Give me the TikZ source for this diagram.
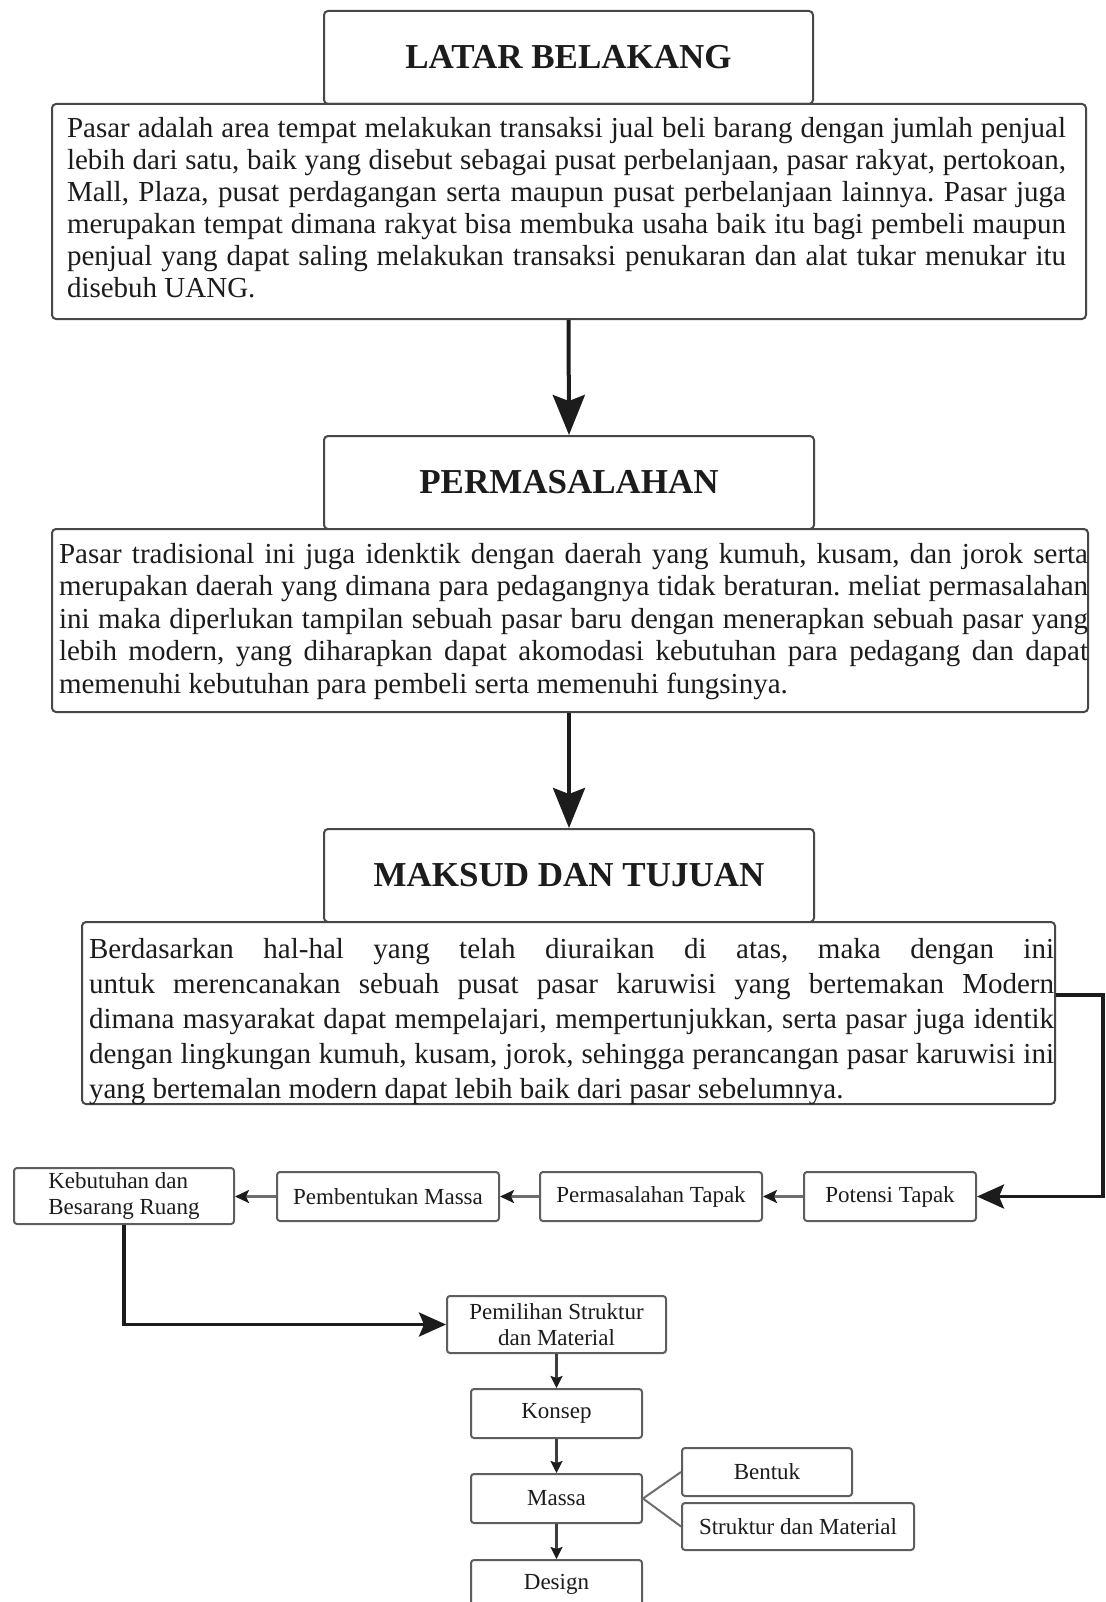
\documentclass[tikz,border=0pt]{standalone}
\usepackage{fontspec}
\setmainfont{Liberation Serif}
\usetikzlibrary{arrows.meta,calc}
\definecolor{bordergray}{HTML}{474747}
\definecolor{boxgray}{HTML}{5E5E5E}
\definecolor{ink}{HTML}{1C1C1C}
\definecolor{linegray}{HTML}{6E6E6E}
\frenchspacing
\newcommand{\jline}[2]{\makebox[#1][s]{\strut #2}\par}
\newcommand{\lastline}[1]{\strut #1\par}
\newcommand{\tblock}[6]{\parbox[c][#2][t]{#1}{\fontsize{#4}{#5}\selectfont\frenchspacing\leftskip=#3\relax\parindent=0pt\vspace*{11.5pt}#6}}
\begin{document}
\begin{tikzpicture}[x=1pt,y=-1pt,
  hdr/.style={draw=bordergray, line width=2pt, rounded corners=4pt, fill=white, inner sep=0pt, anchor=north west, text=ink, font=\fontsize{35}{40}\selectfont\bfseries},
  txt/.style={draw=bordergray, line width=2pt, rounded corners=4pt, fill=white, inner sep=0pt, anchor=north west, text=ink},
  sbox/.style={draw=boxgray, line width=2pt, rounded corners=3pt, fill=white, inner sep=0pt, anchor=north west, text=ink, font=\fontsize{23}{26}\selectfont, align=center},
  bigarrow/.style={line width=4pt, draw=ink, -{Stealth[length=40pt,width=32pt,inset=6pt]}},
  midarrow/.style={line width=3.5pt, draw=ink, -{Stealth[length=27pt,width=24pt,inset=5pt]}},
  smallarrow/.style={line width=2.5pt, draw=linegray, -{Stealth[length=14pt,width=13pt,inset=3pt,color=ink]}},
  vsarrow/.style={line width=2.2pt, draw=ink!85, -{Stealth[length=12pt,width=12pt,inset=2pt,color=ink]}},
  branch/.style={line width=2pt, draw=linegray}]
\useasboundingbox (0,0) rectangle (1105,1602);
\clip (0,0) rectangle (1105,1602);

% headers and text blocks
\node[hdr, minimum width=489pt, minimum height=93pt] (lbh) at (323,10) {\raisebox{-7pt}{LATAR BELAKANG}};
\node[txt] (lbt) at (51,103) {\tblock{1034pt}{215pt}{15pt}{29}{32}{%
\jline{999pt}{Pasar adalah area tempat melakukan transaksi jual beli barang dengan jumlah penjual}
\jline{999pt}{lebih dari satu, baik yang disebut sebagai pusat perbelanjaan, pasar rakyat, pertokoan,}
\jline{999pt}{Mall, Plaza, pusat perdagangan serta maupun pusat perbelanjaan lainnya. Pasar juga}
\jline{999pt}{merupakan tempat dimana rakyat bisa membuka usaha baik itu bagi pembeli maupun}
\jline{999pt}{penjual yang dapat saling melakukan transaksi penukaran dan alat tukar menukar itu}
\lastline{disebuh UANG.}}};

\node[hdr, minimum width=490pt, minimum height=93pt] (pmh) at (323,435) {\raisebox{-7pt}{PERMASALAHAN}};
\node[txt] (pmt) at (51,528) {\tblock{1036pt}{183pt}{7pt}{29}{32.5}{%
\jline{1029pt}{Pasar tradisional ini juga idenktik dengan daerah yang kumuh, kusam, dan jorok serta}
\jline{1029pt}{merupakan daerah yang dimana para pedagangnya tidak beraturan. meliat permasalahan}
\jline{1029pt}{ini maka diperlukan tampilan sebuah pasar baru dengan menerapkan sebuah pasar yang}
\jline{1029pt}{lebih modern, yang diharapkan dapat akomodasi kebutuhan para pedagang dan dapat}
\lastline{memenuhi kebutuhan para pembeli serta memenuhi fungsinya.}}};

\node[hdr, minimum width=490pt, minimum height=93pt] (mth) at (323,828) {\raisebox{-1.5pt}{MAKSUD DAN TUJUAN}};
\node[txt] (mtt) at (81,921) {\tblock{973pt}{182pt}{7pt}{29}{35}{%
\jline{965pt}{Berdasarkan hal-hal yang telah diuraikan di atas, maka dengan ini}
\jline{965pt}{untuk merencanakan sebuah pusat pasar karuwisi yang bertemakan Modern}
\jline{965pt}{dimana masyarakat dapat mempelajari, mempertunjukkan, serta pasar juga identik}
\jline{965pt}{dengan lingkungan kumuh, kusam, jorok, sehingga perancangan pasar karuwisi ini}
\lastline{yang bertemalan modern dapat lebih baik dari pasar sebelumnya.}}};

% row of analysis boxes
\node[sbox, minimum width=220pt, minimum height=56pt, align=left] (keb) at (13,1167) {Kebutuhan dan\\Besarang Ruang};
\node[sbox, minimum width=222pt, minimum height=49pt] (pbm) at (276,1171) {Pembentukan Massa};
\node[sbox, minimum width=222pt, minimum height=49pt] (pst) at (539,1171) {Permasalahan Tapak};
\node[sbox, minimum width=172pt, minimum height=49pt] (pot) at (803,1171) {Potensi Tapak};

% lower column
\node[sbox, minimum width=219pt, minimum height=57pt] (pil) at (446,1295) {Pemilihan Struktur\\dan Material};
\node[sbox, minimum width=171pt, minimum height=49pt] (kon) at (470,1388) {Konsep};
\node[sbox, minimum width=171pt, minimum height=49pt] (mas) at (470,1473) {Massa};
\node[sbox, minimum width=171pt, minimum height=49pt] (des) at (470,1559) {\raisebox{4pt}{Design}};
\node[sbox, minimum width=170pt, minimum height=48pt] (bnt) at (681,1447) {Bentuk};
\node[sbox, minimum width=232pt, minimum height=47pt] (stm) at (681,1502) {Struktur dan Material};

% connectors
\draw[bigarrow] (lbh.south |- lbt.south) -- (pmh.north);
\draw[bigarrow] (mth.north |- pmt.south) -- (mth.north);
\coordinate (rc) at (1103,995);
\draw[midarrow] (rc -| mtt.east) -- (rc) |- (pot.east);
\draw[smallarrow] (pot.west) -- (pst.east);
\draw[smallarrow] (pst.west) -- (pbm.east);
\draw[smallarrow] (pbm.west) -- (keb.east |- pbm.west);
\draw[midarrow] (keb.south) |- (pil.west);
\draw[vsarrow] (pil.south) -- (kon.north);
\draw[vsarrow] (kon.south) -- (mas.north);
\draw[vsarrow] (mas.south) -- (des.north);
\draw[branch] (bnt.west) -- (mas.east) -- (stm.west);
\end{tikzpicture}
\end{document}
